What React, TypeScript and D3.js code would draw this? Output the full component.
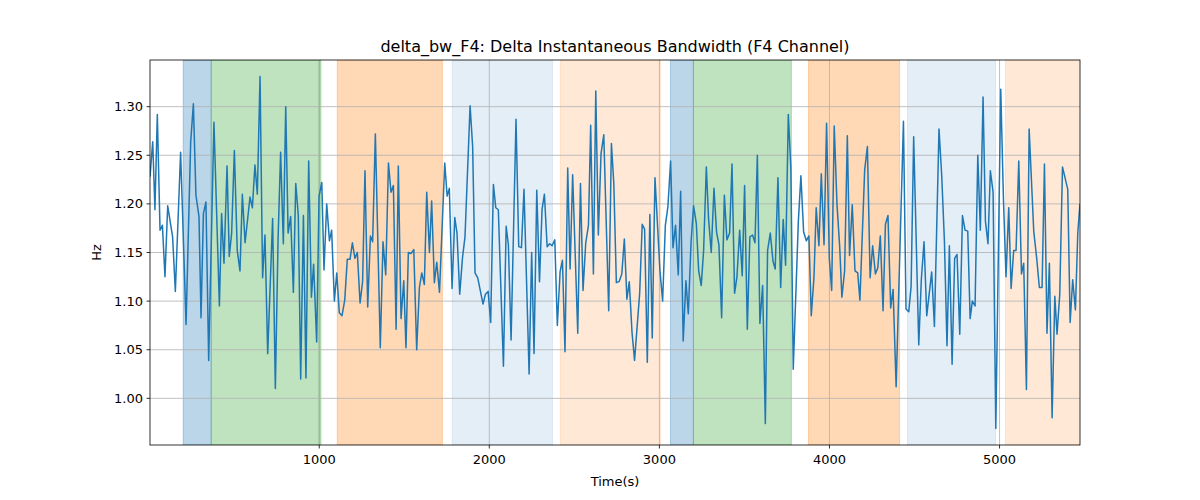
import React from "react";
import * as d3 from "d3";

const times = [5,21,34,48,64,78,93,109,138,154,185,217,244,260,275,293,305,319,334,350,381,413,426,440,458,471,485,501,518,534,548,564,593,607,622,636,652,667,681,697,726,742,758,773,789,803,817,832,848,862,877,891,907,922,938,954,967,985,999,1015,1028,1044,1060,1073,1089,1103,1118,1134,1150,1165,1181,1195,1210,1224,1240,1255,1269,1285,1301,1314,1330,1359,1375,1391,1407,1422,1436,1452,1465,1481,1497,1510,1524,1540,1556,1573,1589,1603,1618,1632,1648,1661,1677,1691,1707,1738,1752,1765,1781,1797,1810,1826,1842,1857,1887,1902,1916,1932,1963,1977,1993,2008,2024,2038,2053,2083,2099,2112,2128,2157,2173,2189,2204,2234,2249,2263,2279,2295,2310,2324,2340,2355,2369,2385,2400,2416,2430,2445,2461,2475,2490,2520,2536,2551,2567,2583,2596,2612,2626,2641,2657,2673,2702,2718,2732,2747,2763,2779,2794,2809,2823,2839,2854,2884,2899,2913,2929,2944,2958,2974,3003,3019,3035,3050,3066,3080,3095,3111,3125,3140,3156,3170,3186,3201,3217,3231,3246,3260,3276,3289,3305,3321,3336,3350,3366,3382,3397,3413,3427,3442,3456,3472,3487,3501,3517,3532,3548,3562,3576,3591,3607,3623,3636,3652,3668,3681,3697,3713,3728,3742,3758,3773,3787,3817,3832,3848,3864,3879,3893,3909,3922,3938,3952,3968,3983,3999,4013,4028,4044,4060,4073,4089,4105,4118,4134,4150,4166,4179,4207,4223,4239,4254,4270,4284,4299,4315,4329,4344,4360,4374,4392,4435,4450,4466,4480,4495,4525,4540,4556,4572,4586,4601,4617,4644,4660,4676,4691,4705,4721,4736,4750,4766,4782,4797,4813,4827,4840,4856,4872,4887,4903,4917,4932,4946,4962,4978,5007,5023,5038,5054,5068,5083,5097,5113,5129,5142,5158,5174,5201,5219,5234,5250,5264,5279,5293,5309,5325,5338,5354,5370,5401,5415,5430,5446,5460,5473];

const values = [1.228,1.264,1.194,1.292,1.173,1.178,1.125,1.198,1.166,1.110,1.253,1.076,1.263,1.303,1.209,1.187,1.083,1.190,1.202,1.039,1.284,1.095,1.190,1.139,1.239,1.146,1.170,1.255,1.152,1.131,1.210,1.160,1.207,1.196,1.240,1.210,1.331,1.124,1.168,1.046,1.185,1.010,1.164,1.253,1.159,1.300,1.170,1.187,1.109,1.221,1.188,1.020,1.188,1.021,1.244,1.104,1.138,1.058,1.208,1.222,1.132,1.200,1.162,1.173,1.100,1.129,1.088,1.085,1.101,1.143,1.143,1.160,1.144,1.150,1.098,1.120,1.234,1.094,1.167,1.161,1.272,1.052,1.161,1.127,1.242,1.212,1.219,1.071,1.239,1.082,1.121,1.052,1.150,1.149,1.153,1.050,1.114,1.129,1.117,1.212,1.150,1.203,1.119,1.140,1.109,1.242,1.208,1.216,1.113,1.186,1.170,1.107,1.144,1.166,1.301,1.259,1.129,1.124,1.097,1.107,1.110,1.078,1.220,1.196,1.194,1.033,1.177,1.158,1.060,1.287,1.156,1.155,1.215,1.025,1.150,1.046,1.214,1.120,1.194,1.210,1.156,1.159,1.157,1.163,1.075,1.130,1.142,1.048,1.237,1.133,1.230,1.067,1.221,1.111,1.160,1.178,1.281,1.128,1.316,1.168,1.252,1.271,1.090,1.262,1.221,1.119,1.120,1.128,1.164,1.102,1.120,1.068,1.039,1.108,1.179,1.174,1.037,1.189,1.062,1.227,1.132,1.100,1.178,1.197,1.244,1.155,1.178,1.127,1.213,1.059,1.121,1.087,1.160,1.198,1.180,1.131,1.116,1.152,1.238,1.185,1.150,1.216,1.171,1.158,1.083,1.209,1.163,1.170,1.241,1.108,1.125,1.173,1.126,1.219,1.071,1.166,1.168,1.160,1.250,1.077,1.116,0.974,1.152,1.170,1.141,1.133,1.227,1.114,1.184,1.137,1.292,1.237,1.030,1.182,1.229,1.171,1.162,1.167,1.085,1.125,1.196,1.157,1.231,1.158,1.283,1.144,1.111,1.280,1.200,1.156,1.104,1.131,1.270,1.147,1.199,1.131,1.129,1.101,1.235,1.259,1.124,1.157,1.128,1.134,1.167,1.090,1.179,1.188,1.093,1.112,1.012,1.285,1.092,1.089,1.115,1.269,1.055,1.122,1.161,1.085,1.107,1.130,1.074,1.277,1.229,1.161,1.054,1.157,1.035,1.144,1.148,1.066,1.188,1.173,1.172,1.082,1.100,1.095,1.250,1.173,1.310,1.182,1.159,1.234,1.212,0.969,1.318,1.204,1.125,1.196,1.113,1.152,1.152,1.244,1.128,1.139,1.009,1.277,1.172,1.143,1.114,1.114,1.241,1.067,1.139,0.980,1.105,1.066,1.107,1.238,1.215,1.078,1.122,1.091,1.170,1.200];

const spanStarts = [200, 365, 1000, 1106, 1782, 2418, 3065, 3200, 3876, 4459, 5035];
const spanEnds = [365, 1000, 1010, 1724, 2371, 3006, 3200, 3776, 4412, 4976, 5480];
const spanColors = ["#1f77b4", "#2ca02c", "#2ca02c", "#ff7f0e", "#1f77b4", "#ff7f0e", "#1f77b4", "#2ca02c", "#ff7f0e", "#1f77b4", "#ff7f0e"];
const spanAlphas = [0.3, 0.3, 0.3, 0.3, 0.12, 0.17, 0.3, 0.3, 0.3, 0.12, 0.17];

const xTicks = [1000, 2000, 3000, 4000, 5000];
const yTicks = [1.0, 1.05, 1.1, 1.15, 1.2, 1.25, 1.3];

export default function App() {
  const W = 1200, H = 500;
  const m = { left: 150, right: 120, top: 60, bottom: 55 };
  const x = d3.scaleLinear().domain([5, 5473]).range([m.left, W - m.right]);
  const y = d3.scaleLinear().domain([0.952, 1.348]).range([H - m.bottom, m.top]);
  const pts = times.map((t, i) => [t, values[i]] as [number, number]);
  const line = d3.line<[number, number]>().x((d) => x(d[0])).y((d) => y(d[1]));
  const font = "DejaVu Sans, sans-serif";

  return (
    <svg width={W} height={H} style={{ position: "fixed", left: 0, top: 0, background: "#fff" }} fontFamily={font}>
      <defs>
        <clipPath id="plot">
          <rect x={m.left} y={m.top} width={W - m.left - m.right} height={H - m.top - m.bottom} />
        </clipPath>
      </defs>
      <g clipPath="url(#plot)">
        {spanStarts.map((s, i) => (
          <rect key={i} x={x(s)} y={m.top} width={x(spanEnds[i]) - x(s)} height={H - m.top - m.bottom}
            fill={spanColors[i]} fillOpacity={spanAlphas[i]} stroke={spanColors[i]} strokeOpacity={spanAlphas[i]} />
        ))}
        {xTicks.map((t) => (
          <line key={t} x1={x(t)} x2={x(t)} y1={m.top} y2={H - m.bottom} stroke="#b0b0b0" strokeWidth={0.8} />
        ))}
        {yTicks.map((t) => (
          <line key={t} x1={m.left} x2={W - m.right} y1={y(t)} y2={y(t)} stroke="#b0b0b0" strokeWidth={0.8} />
        ))}
        <path d={line(pts) ?? ""} fill="none" stroke="#1f77b4" strokeWidth={1.5} strokeLinejoin="round" />
      </g>
      <rect x={m.left} y={m.top} width={W - m.left - m.right} height={H - m.top - m.bottom} fill="none" stroke="#000" strokeWidth={0.8} />
      {xTicks.map((t) => (
        <g key={t}>
          <line x1={x(t)} x2={x(t)} y1={H - m.bottom} y2={H - m.bottom + 3.5} stroke="#000" strokeWidth={0.8} />
          <text x={x(t)} y={H - m.bottom + 19} textAnchor="middle" fontSize={13}>{t}</text>
        </g>
      ))}
      {yTicks.map((t) => (
        <g key={t}>
          <line x1={m.left - 3.5} x2={m.left} y1={y(t)} y2={y(t)} stroke="#000" strokeWidth={0.8} />
          <text x={m.left - 7} y={y(t) + 4.5} textAnchor="end" fontSize={13}>{t.toFixed(2)}</text>
        </g>
      ))}
      <text x={(m.left + W - m.right) / 2} y={486} textAnchor="middle" fontSize={13}>Time(s)</text>
      <text transform={`translate(101,${(m.top + H - m.bottom) / 2}) rotate(-90)`} textAnchor="middle" fontSize={13}>Hz</text>
      <text x={(m.left + W - m.right) / 2} y={52} textAnchor="middle" fontSize={16}>delta_bw_F4: Delta Instantaneous Bandwidth (F4 Channel)</text>
    </svg>
  );
}
